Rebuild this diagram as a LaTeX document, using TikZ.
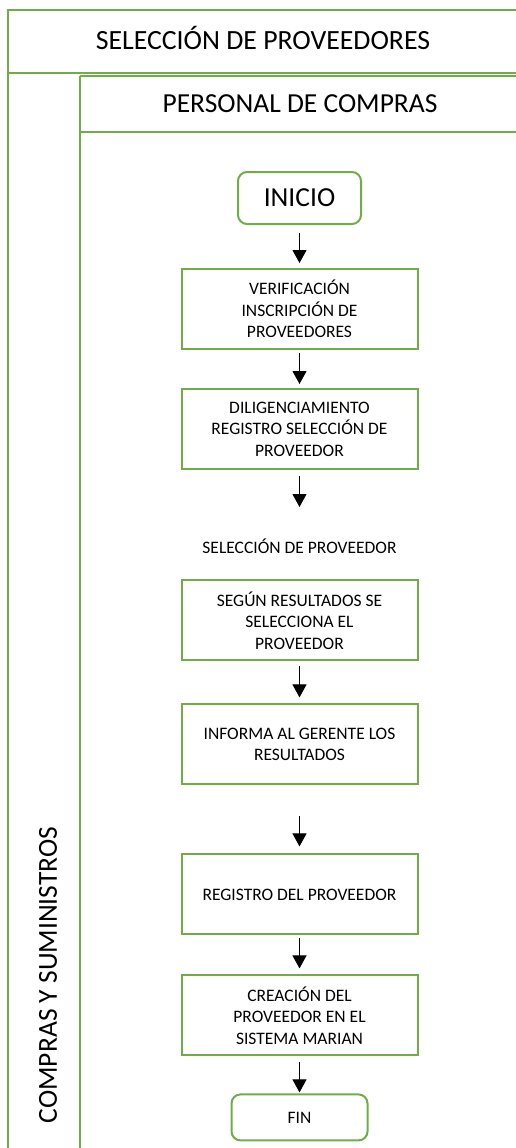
\documentclass[tikz,border=0pt]{standalone}
\usepackage{fontspec}
\setmainfont{Carlito}
\usetikzlibrary{positioning, arrows.meta}
\definecolor{hojaverde}{RGB}{112,173,71}

\begin{document}
\begin{tikzpicture}[x=1pt, y=-1pt,
    paso/.style={rectangle, draw=hojaverde, line width=2pt, minimum width=236pt, minimum height=80pt, inner sep=0pt, align=center, font=\fontsize{17.5}{21.5}\selectfont},
    terminal/.style={rectangle, rounded corners=9pt, draw=hojaverde, line width=2pt, inner sep=0pt, align=center},
    flecha/.style={-{Triangle[width=14pt,length=13pt]}, black, line width=1pt},
    carril/.style={hojaverde, line width=2pt}]
        \useasboundingbox (0,0) rectangle (516,1148);

        % carriles
        \draw[carril] (7,10) -- (516,10);
        \draw[carril] (8,10) -- (8,1148);
        \draw[carril] (8,73) -- (516,73);
        \draw[carril] (80,76) -- (516,76);
        \draw[carril] (80,76) -- (80,1148);
        \draw[carril] (80,132) -- (516,132);

        \node[font=\fontsize{27.8}{32}\selectfont](titulo) at (263,38){SELECCIÓN DE PROVEEDORES};
        \node[font=\fontsize{27.5}{32}\selectfont](personal) at (300,104){PERSONAL DE COMPRAS};
        \node[font=\fontsize{27.5}{32}\selectfont, rotate=90](compras) at (48,975){COMPRAS Y SUMINISTROS};

        \node[terminal, minimum width=123pt, minimum height=52pt, font=\fontsize{27.5}{32}\selectfont](inicio) at (299.5,198){INICIO};
        \node[paso](v1)[below = 43pt of inicio]{VERIFICACIÓN\\INSCRIPCIÓN DE\\PROVEEDORES};
        \node[paso](v2)[below = 38pt of v1]{DILIGENCIAMIENTO\\REGISTRO SELECCIÓN DE\\PROVEEDOR};
        \node[minimum height=20pt, inner sep=0pt, font=\fontsize{17.5}{21.5}\selectfont](sel)[below = 66pt of v2]{SELECCIÓN DE PROVEEDOR};
        \node[paso](v3)[below = 23pt of sel]{SEGÚN RESULTADOS SE\\SELECCIONA EL\\PROVEEDOR};
        \node[paso](v4)[below = 42pt of v3]{INFORMA AL GERENTE LOS\\RESULTADOS};
        \node[paso](v5)[below = 68pt of v4]{REGISTRO DEL PROVEEDOR};
        \node[paso](v6)[below = 39pt of v5]{CREACIÓN DEL\\PROVEEDOR EN EL\\SISTEMA MARIAN};
        \node[terminal, minimum width=136pt, minimum height=46pt, font=\fontsize{17.5}{21.5}\selectfont](fin)[below = 37pt of v6]{FIN};

        \draw[flecha, shorten <=8pt, shorten >=5pt] (inicio) -- (v1);
        \draw[flecha, shorten <=3pt, shorten >=4pt] (v1) -- (v2);
        \draw[flecha, shorten <=6pt, shorten >=29pt] (v2) -- (sel);
        \draw[flecha, shorten <=5pt, shorten >=6pt] (v3) -- (v4);
        \draw[flecha, shorten <=31pt, shorten >=7pt] (v4) -- (v5);
        \draw[flecha, shorten <=3pt, shorten >=6pt] (v5) -- (v6);
        \draw[flecha, shorten <=6pt, shorten >=1pt] (v6) -- (fin);
    \end{tikzpicture}
\end{document}
